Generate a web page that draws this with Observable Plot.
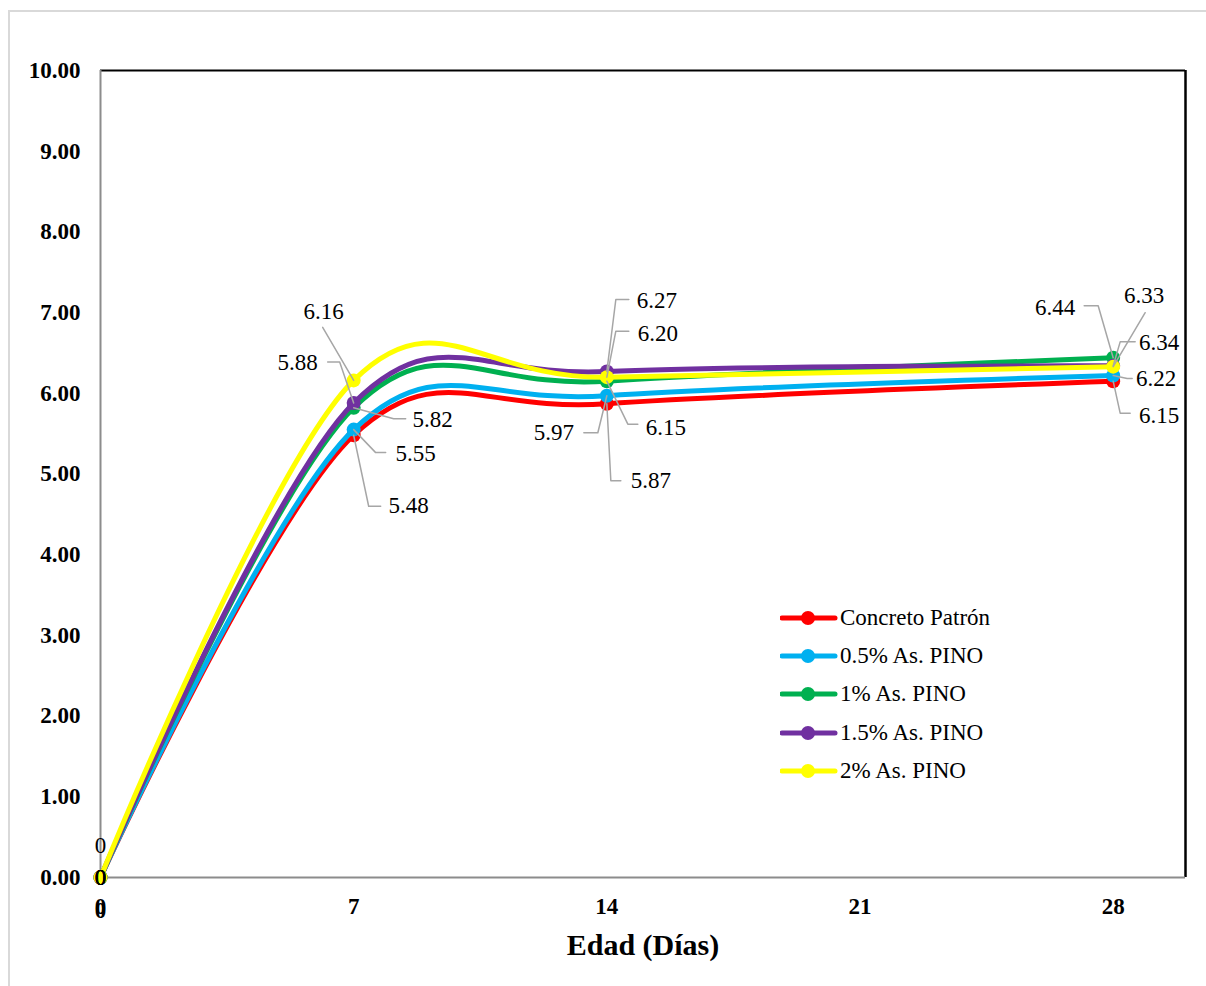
<!DOCTYPE html>
<html>
<head>
<meta charset="utf-8">
<script src="https://cdn.jsdelivr.net/npm/d3@7"></script>
<script src="https://cdn.jsdelivr.net/npm/@observablehq/plot@0.6"></script>
<style>
  html, body { margin: 0; padding: 0; background: white; }
  #wrap { position: relative; width: 1206px; height: 986px; font-family: "Liberation Serif", "Times New Roman", serif; }
  #border { position: absolute; left: 8px; top: 10px; width: 1210px; height: 990px; border: 2px solid #d9d9d9; pointer-events: none; }
  #legend { position: absolute; left: 780px; top: 599px; }
  .row { display: flex; align-items: center; height: 38.2px; font-size: 23px; color: black; }
  .row svg { margin-right: 2px; }
</style>
</head>
<body>
<div id="wrap"><div id="chart"></div><div id="border"></div><div id="legend"></div></div>
<script>
// ---- data ----
const days = [0, 7, 14, 28];
const seriesNames = ["Concreto Patrón", "0.5% As. PINO", "1% As. PINO", "1.5% As. PINO", "2% As. PINO"];
const patron = [0, 5.48, 5.87, 6.15];
const pino05 = [0, 5.55, 5.97, 6.22];
const pino1  = [0, 5.82, 6.15, 6.44];
const pino15 = [0, 5.88, 6.27, 6.34];
const pino2  = [0, 6.16, 6.20, 6.33];
const yTicks = [0, 1, 2, 3, 4, 5, 6, 7, 8, 9, 10];
const xTicks = [0, 7, 14, 21, 28];
const xTitle = "Edad (Días)";

// ---- styles ----
const colors = ["#FF0000", "#00B0F0", "#00B050", "#7030A0", "#FFFF00"];
const seriesValues = [patron, pino05, pino1, pino15, pino2];

// ---- label layout (pixel offsets from point: text center, leader polyline) ----
// [seriesIdx, dayIdx, textDx, textDy, leaderPoints]
const labelLayout = [
  [4, 1, -30, -69, [[-31, -53], [0, 0]]],
  [3, 1, -56, -40, [[-26, -41], [-14, -41], [0, 0]]],
  [2, 1, 79, 12, [[0, 0], [40, 11], [52, 11]]],
  [1, 1, 62, 24, [[0, 0], [22, 23], [32, 23]]],
  [0, 1, 55, 70, [[0, 0], [15, 71], [27, 71]]],
  [3, 2, 50, -71, [[22, -72], [9, -72], [0, 0]]],
  [4, 2, 51, -44, [[22, -46], [9, -46], [0, 0]]],
  [2, 2, 59, 46, [[0, 0], [21, 43], [31, 43]]],
  [1, 2, -53, 37, [[-23, 37], [-9, 37], [0, 0]]],
  [0, 2, 44, 77, [[0, 0], [4, 77], [14, 77]]],
  [2, 3, -58, -50, [[-29, -52], [-15, -52], [0, 0]]],
  [4, 3, 31, -71, [[32, -54], [0, 0]]],
  [3, 3, 46, -23, [[22, -24], [7, -24], [0, 0]]],
  [1, 3, 43, 3, [[0, 0], [14, 3], [19, 3]]],
  [0, 3, 46, 34, [[0, 0], [7, 32], [17, 32]]],
  [0, 0, 0, -32, null],
  [1, 0, 0, 0, null],
  [2, 0, 0, 0, null],
  [3, 0, 0, 0, null],
  [4, 0, 0, 0, null]
];

const W = 1206, H = 986, mL = 100, mR = 21, mT = 70, mB = 109;
const xDomain = [0, 30], yDomain = [0, 10];
const pxPerDay = (W - mL - mR) / (xDomain[1] - xDomain[0]);
const pxPerUnit = (H - mT - mB) / (yDomain[1] - yDomain[0]);

const rows = [];
seriesValues.forEach((vals, s) => days.forEach((d, i) => rows.push({s, name: seriesNames[s], day: d, value: vals[i]})));

const labels = labelLayout.map(([s, i, tx, ty]) => ({
  x: days[i] + tx / pxPerDay,
  y: seriesValues[s][i] - ty / pxPerUnit,
  text: seriesValues[s][i] === 0 ? "0" : seriesValues[s][i].toFixed(2)
}));
const leaders = [];
labelLayout.forEach(([s, i, tx, ty, pts], k) => {
  if (!pts) return;
  pts.forEach(([dx, dy]) => leaders.push({id: k, x: days[i] + dx / pxPerDay, y: seriesValues[s][i] - dy / pxPerUnit}));
});

const seriesMarks = [];
seriesValues.forEach((vals, s) => {
  const data = rows.filter(r => r.s === s);
  seriesMarks.push(Plot.line(data, {x: "day", y: "value", stroke: colors[s], strokeWidth: 5, curve: "cardinal"}));
  seriesMarks.push(Plot.dot(data, {x: "day", y: "value", fill: colors[s], r: 7}));
});

const chart = Plot.plot({
  width: W, height: H,
  marginLeft: mL, marginRight: mR, marginTop: mT, marginBottom: mB,
  x: {domain: xDomain},
  y: {domain: yDomain},
  style: {fontFamily: "'Liberation Serif', 'Times New Roman', serif", fontSize: "23px", background: "transparent", color: "black"},
  marks: [
    Plot.axisY(yTicks, {tickSize: 0, tickPadding: 20, tickFormat: d => d.toFixed(2), fontWeight: "bold", fontSize: 23, label: null}),
    Plot.axisX(xTicks, {tickSize: 0, tickPadding: 20, fontWeight: "bold", fontSize: 23, label: null}),
    Plot.text(["0"], {x: xDomain[0], frameAnchor: "bottom", lineAnchor: "middle", dy: 33, fontWeight: "bold", fontSize: 23, text: d => d}),
    Plot.ruleY([yDomain[1]], {stroke: "black", strokeWidth: 2}),
    Plot.ruleX([xDomain[1]], {stroke: "black", strokeWidth: 2.5}),
    Plot.ruleX([xDomain[0]], {stroke: "#8c8c8c", strokeWidth: 2}),
    Plot.ruleY([yDomain[0]], {stroke: "#8c8c8c", strokeWidth: 2}),
    ...seriesMarks,
    Plot.line(leaders, {x: "x", y: "y", z: "id", stroke: "#A6A6A6", strokeWidth: 1.5}),
    Plot.text(labels, {x: "x", y: "y", text: "text", fontSize: 23, fill: "black"}),
    Plot.text([xTitle], {frameAnchor: "bottom", lineAnchor: "middle", dy: 68, fontSize: 30, fontWeight: "bold", text: d => d})
  ]
});
document.getElementById("chart").appendChild(chart);

// ---- legend ----
const legend = document.getElementById("legend");
seriesNames.forEach((name, s) => {
  const row = document.createElement("div");
  row.className = "row";
  row.innerHTML = `<svg width="58" height="20"><line x1="2" x2="55" y1="10" y2="10" stroke="${colors[s]}" stroke-width="5" stroke-linecap="round"/><circle cx="28" cy="10" r="7" fill="${colors[s]}"/></svg>`;
  const span = document.createElement("span");
  span.textContent = name;
  row.appendChild(span);
  legend.appendChild(row);
});
</script>
</body>
</html>
